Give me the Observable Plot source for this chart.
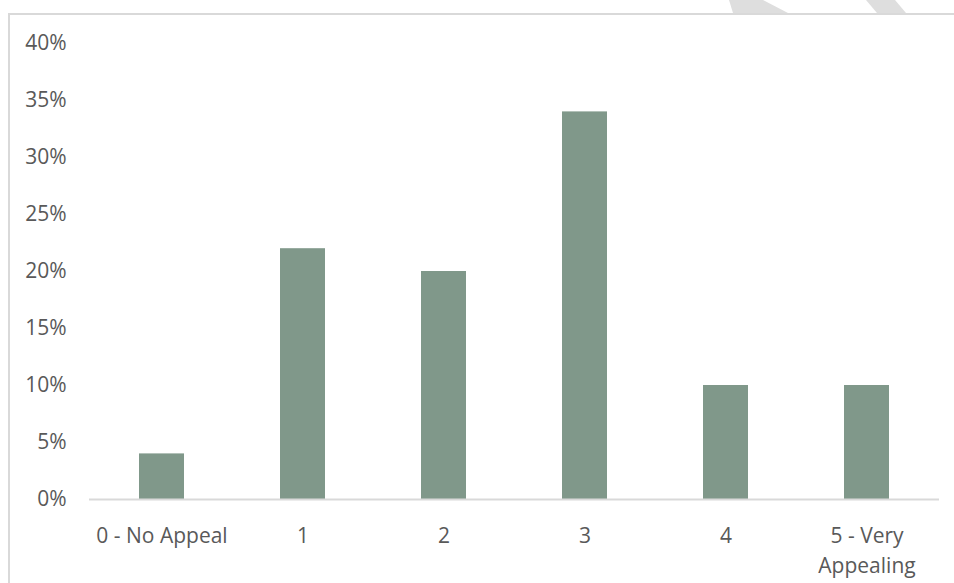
<!DOCTYPE html>
<html>
<head>
<meta charset="utf-8">
<script src="https://cdn.jsdelivr.net/npm/d3@7"></script>
<script src="https://cdn.jsdelivr.net/npm/@observablehq/plot@0.6"></script>
<style>
  html, body { margin: 0; padding: 0; background: #fff; overflow: hidden; }
  #wrap { position: relative; width: 954px; height: 583px; }
  #frame { position: absolute; left: 8px; top: 13px; width: 980px; height: 600px;
           border-top: 2px solid #d9d9d9; border-left: 2px solid #d9d9d9; pointer-events: none; }
  #wm { position: absolute; left: 0; top: 0; }
</style>
</head>
<body>
<div id="wrap">
  <div id="chart"></div>
  <div id="frame"></div>
  <svg id="wm" width="954" height="14">
    <polygon points="729,0 763,0 788,13 733,13" fill="#dedede"/>
    <polygon points="866,0 895,0 906,13 877,13" fill="#dedede"/>
  </svg>
</div>
<script>
const categories = ["0 - No Appeal", "1", "2", "3", "4", "5 - Very Appealing"];
const values = [0.04, 0.22, 0.20, 0.34, 0.10, 0.10];
const yTicks = [0, 0.05, 0.10, 0.15, 0.20, 0.25, 0.30, 0.35, 0.40];
const tickLabels = {"5 - Very Appealing": "5 - Very\nAppealing"};

const data = categories.map((c, i) => ({category: c, value: values[i]}));

const chart = Plot.plot({
  width: 954,
  height: 583,
  marginLeft: 89,
  marginRight: 15,
  marginTop: 43,
  marginBottom: 84,
  style: {fontFamily: "'Open Sans', sans-serif", fontSize: "21px", color: "#595959", background: "transparent"},
  x: {domain: categories, paddingInner: 0.683, paddingOuter: 0.3415, label: null},
  y: {domain: [0, 0.40], label: null},
  marks: [
    Plot.barY(data, {x: "category", y: "value", fill: "#80988a"}),
    Plot.ruleY([0], {stroke: "#d9d9d9", strokeWidth: 2}),
    Plot.axisY({ticks: yTicks, tickFormat: d => Math.round(d * 100) + "%", tickSize: 0, tickPadding: 23, fill: "#595959", fontSize: 21, label: null}),
    Plot.axisX({tickSize: 0, tickPadding: 22, fill: "#595959", fontSize: 21, lineHeight: 1.43, tickFormat: d => tickLabels[d] || d, label: null})
  ]
});
document.getElementById("chart").appendChild(chart);
</script>
</body>
</html>
